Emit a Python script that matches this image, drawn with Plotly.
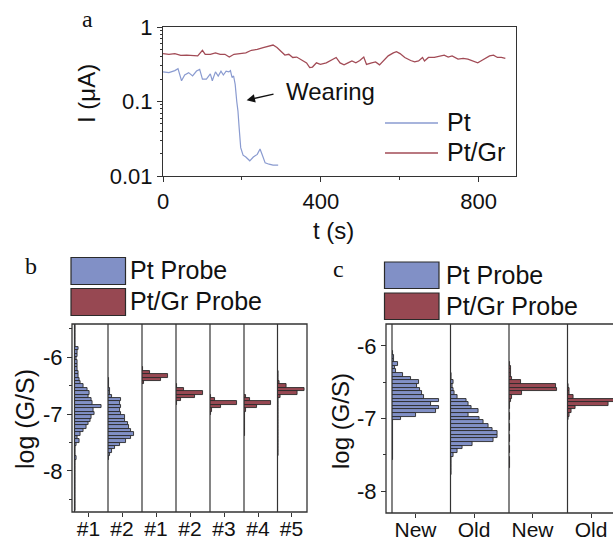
import plotly.graph_objects as go
import numpy as np

FW, FH = 613, 541

# ---------------- Panel a data ----------------
pt_t = [0, 15, 30, 38, 47, 55, 65, 75, 85, 93, 100, 110, 120, 125, 133, 140, 147, 153, 160, 167, 171,
        175, 179, 183, 187, 190, 193, 197, 203, 210, 220, 229, 239, 246, 252, 259, 269, 279, 292]
pt_i = [0.25, 0.244, 0.26, 0.276, 0.19, 0.227, 0.244, 0.22, 0.256, 0.27, 0.2, 0.2, 0.235, 0.19, 0.25,
        0.22, 0.256, 0.227, 0.256, 0.25, 0.26, 0.21, 0.22, 0.17, 0.1, 0.075, 0.045, 0.024, 0.019, 0.018,
        0.016, 0.018, 0.0195, 0.023, 0.019, 0.015, 0.0144, 0.014, 0.014]
gr_t = [0, 15, 30, 45, 60, 75, 88, 100, 107, 120, 133, 145, 157, 168, 180, 195, 210, 224, 239, 254,
        269, 279, 289, 299, 309, 319, 329, 339, 354, 364, 372, 379, 389, 399, 414, 429, 439, 449, 459,
        469, 479, 489, 499, 509, 516, 529, 539, 549, 559, 571, 584, 592, 601, 613, 628, 638, 648, 658,
        663, 673, 688, 703, 713, 723, 733, 748, 761, 773, 788, 798, 808, 818, 828, 838, 848, 858, 868]
gr_i = [0.44, 0.43, 0.44, 0.416, 0.42, 0.41, 0.41, 0.487, 0.43, 0.43, 0.45, 0.43, 0.43, 0.395, 0.43,
        0.44, 0.45, 0.487, 0.5, 0.53, 0.556, 0.573, 0.53, 0.476, 0.42, 0.43, 0.39, 0.395, 0.35, 0.33,
        0.285, 0.29, 0.33, 0.315, 0.33, 0.37, 0.39, 0.33, 0.31, 0.33, 0.35, 0.33, 0.355, 0.395, 0.315,
        0.33, 0.34, 0.31, 0.35, 0.41, 0.45, 0.467, 0.44, 0.39, 0.355, 0.34, 0.35, 0.39, 0.35, 0.39, 0.39,
        0.41, 0.42, 0.395, 0.41, 0.37, 0.38, 0.37, 0.35, 0.33, 0.355, 0.38, 0.41, 0.42, 0.39, 0.39, 0.38]

# ---------------- Panel b data (histograms, bin width 0.06) ----------------
b_bin = 0.06
b_labels = ["#1", "#2", "#1", "#2", "#3", "#4", "#5"]
b_pt1_top, b_pt1 = -5.43, [1, 1, 1, 1, 1, 1, 1, 4, 3, 3, 2, 3, 3, 3, 4, 4, 5, 6, 9, 13, 15, 14, 17, 18,
                           27, 19, 20, 17, 16, 14, 12, 9, 6, 3, 5, 2, 1, 1, 1, 2, 1, 1, 0.5, 1, 0.5, 1,
                           0.5, 1, 1, 0.5, 1, 0.5, 1, 0.5, 0.5]
b_pt2_top, b_pt2 = -6.39, [1, 1, 1, 1.5, 2, 4, 13, 12, 13, 12, 13, 17, 17, 20, 21, 23, 26, 23, 18, 12,
                           7, 4, 2, 1]
b_gr1_top, b_gr1 = -6.21, [1, 8, 26, 19, 2]
b_gr2_top, b_gr2 = -6.51, [1, 8, 27, 19, 5, 0.5]
b_gr3_top, b_gr3 = -6.69, [1, 5, 27, 11, 2, 1]
b_gr4_top, b_gr4 = -6.69, [1.5, 6, 27, 13, 2, 0.8, 0.8, 0.8, 0.8, 0.8, 0.8, 0.8]
b_gr5_top, b_gr5 = -6.27, [1, 1, 1, 2, 9, 27, 20, 3, 0.8, 0.8, 0.8, 0.8, 0.8, 0.8, 0.8, 0.8, 0.8, 0.8,
                           0.8, 0.8, 0.8, 0.8, 0.8, 0.8, 0.8]

# ---------------- Panel c data (histograms, bin width 0.05) ----------------
c_bin = 0.05
c_labels = ["New", "Old", "New", "Old"]
c_pt_new_top, c_pt_new = -6.10, [0.8, 1.5, 2, 6, 3.3, 4.3, 10.7, 19, 26.7, 25, 28.3, 30, 31.7, 46.7, 39,
                                 46.7, 44.3, 24.3, 9.3, 1, 1, 1, 1, 1, 1, 1, 1, 1, 1, 1]
c_pt_old_top, c_pt_old = -6.40, [1, 1, 3, 2, 3, 4, 7, 16, 18, 21, 28, 18, 29, 33, 38, 42, 47, 47, 43, 22,
                                 12, 7, 3, 1, 1, 1, 1, 1]
c_gr_new_top, c_gr_new = -6.25, [1, 2, 2, 2, 3, 12, 47, 48, 13, 3, 1.5, 1, 1, 0, 1, 1, 0, 1, 1, 0, 1, 1,
                                 0, 1, 1, 0, 1, 1, 1]
c_gr_old_top, c_gr_old = -6.55, [1, 1.5, 2, 6, 50, 41, 8, 4, 1.5, 1]

BLUE_BAR = "#8190c6"
RED_BAR = "#974852"
BLUE_LINE = "#8a9bd0"
RED_LINE = "#a24b56"
EDGE = "#2a2a2a"
FONT = "Liberation Sans, Arial, sans-serif"
SERIF = "Liberation Serif, Times New Roman, serif"


def px(x):
    return x / FW


def py(y):
    return 1 - y / FH


fig = go.Figure()

# ---------------- Panel a ----------------
fig.add_trace(go.Scatter(x=pt_t, y=pt_i, mode="lines", line=dict(color=BLUE_LINE, width=1.2),
                         xaxis="x", yaxis="y", showlegend=False, name="Pt"))
fig.add_trace(go.Scatter(x=gr_t, y=gr_i, mode="lines", line=dict(color=RED_LINE, width=1.3),
                         xaxis="x", yaxis="y", showlegend=False, name="Pt/Gr"))

axcommon = dict(showgrid=False, zeroline=False, linecolor="#333", linewidth=1.2, automargin=False,
                tickcolor="#333", tickfont=dict(family=FONT, size=22, color="#111"))

layout = dict(
    width=FW, height=FH, margin=dict(l=0, r=0, t=0, b=0, autoexpand=False),
    paper_bgcolor="white", plot_bgcolor="white", showlegend=False,
    bargap=0,
    xaxis=dict(domain=[px(163), px(516)], range=[0, 895], anchor="y", showline=True, mirror=True,
               ticks="outside", ticklen=5, tickvals=[0, 400, 800], ticktext=["0", "400", "800"],
               minor=dict(tickvals=[200, 600], ticks="outside", ticklen=3, tickcolor="#333"),
               **axcommon),
    yaxis=dict(domain=[py(176), py(27)], type="log", range=[-2, 0], anchor="x", showline=True,
               mirror=True, ticks="outside", ticklen=5, tickvals=[0.01, 0.1, 1],
               ticktext=["0.01", "0.1", "1"],
               minor=dict(tickvals=[0.02, 0.03, 0.04, 0.05, 0.06, 0.07, 0.08, 0.09,
                                    0.2, 0.3, 0.4, 0.5, 0.6, 0.7, 0.8, 0.9],
                          ticks="outside", ticklen=2, tickcolor="#333"),
               **axcommon),
)

# ---------------- Panels b and c ----------------
b_hists = [(b_pt1_top, b_pt1, BLUE_BAR), (b_pt2_top, b_pt2, BLUE_BAR),
           (b_gr1_top, b_gr1, RED_BAR), (b_gr2_top, b_gr2, RED_BAR), (b_gr3_top, b_gr3, RED_BAR),
           (b_gr4_top, b_gr4, RED_BAR), (b_gr5_top, b_gr5, RED_BAR)]
b_edges = [74.5, 108, 142, 176, 210, 244, 277.5, 307]
b_box = (72, 307, 324, 512)
c_hists = [(c_pt_new_top, c_pt_new, BLUE_BAR), (c_pt_old_top, c_pt_old, BLUE_BAR),
           (c_gr_new_top, c_gr_new, RED_BAR), (c_gr_old_top, c_gr_old, RED_BAR)]
c_edges = [392, 450.5, 509, 567.5, 613]
c_box = (386, 640, 324, 513)

shapes = []
ax_id = 2


def add_group(hists, edges, labels, binw, yname, tick_off):
    global ax_id
    for i, (top, counts, col) in enumerate(hists):
        centers = np.round(top - binw * np.arange(len(counts)), 3)
        xn = f"x{ax_id}"
        fig.add_trace(go.Bar(y=centers, x=counts, orientation="h", width=binw,
                             marker=dict(color=col, line=dict(color=EDGE, width=0.9)),
                             xaxis=xn, yaxis=yname, showlegend=False))
        w = edges[i + 1] - edges[i]
        ax = dict(axcommon)
        ax["tickfont"] = dict(family=FONT, size=21, color="#111")
        layout[f"xaxis{ax_id}"] = dict(
            domain=[px(edges[i]), px(edges[i + 1])], range=[0, w], anchor=yname,
            showline=False, ticks="outside", ticklen=4, ticklabelstandoff=-6,
            tickvals=[tick_off], ticktext=[labels[i]], **ax)
        ax_id += 1


add_group(b_hists, b_edges, b_labels, b_bin, "y2", 14)
add_group(c_hists, c_edges, c_labels, c_bin, "y3", 23.5)

layout["yaxis2"] = dict(domain=[py(512), py(324)], range=[-8.72, -5.42], anchor="free",
                        position=px(72), showline=False, ticks="outside", ticklen=5,
                        tickvals=[-6, -7, -8], ticktext=["-6", "-7", "-8"],
                        minor=dict(tickvals=[-5.5, -6.5, -7.5, -8.5], ticks="outside", ticklen=3,
                                   tickcolor="#333"), **axcommon)
layout["yaxis3"] = dict(domain=[py(513), py(324)], range=[-8.30, -5.70], anchor="free",
                        position=px(386), showline=False, ticks="outside", ticklen=5,
                        tickvals=[-6, -7, -8], ticktext=["-6", "-7", "-8"],
                        minor=dict(tickvals=[-6.5, -7.5], ticks="outside", ticklen=3,
                                   tickcolor="#333"), **axcommon)

LC = "#333"
for (x0, x1, y0, y1) in [b_box, c_box]:
    shapes.append(dict(type="rect", xref="paper", yref="paper", x0=px(x0), x1=px(x1), y0=py(y1),
                       y1=py(y0), line=dict(color=LC, width=1.3), layer="above"))
for e in b_edges[:-1]:
    shapes.append(dict(type="line", xref="paper", yref="paper", x0=px(e), x1=px(e), y0=py(512),
                       y1=py(324), line=dict(color=LC, width=1.2), layer="above"))
for e in c_edges[:-1]:
    shapes.append(dict(type="line", xref="paper", yref="paper", x0=px(e), x1=px(e), y0=py(513),
                       y1=py(324), line=dict(color=LC, width=1.2), layer="above"))

# legend swatches (panel a lines, panel b/c rectangles)
shapes.append(dict(type="line", xref="paper", yref="paper", x0=px(385), x1=px(438), y0=py(123),
                   y1=py(123), line=dict(color=BLUE_LINE, width=1.5)))
shapes.append(dict(type="line", xref="paper", yref="paper", x0=px(385), x1=px(438), y0=py(153),
                   y1=py(153), line=dict(color=RED_LINE, width=1.5)))
for (x0, x1, ya, yb) in [(71, 125.5, 257.5, 284.5), (384.5, 439, 262, 288.5)]:
    shapes.append(dict(type="rect", xref="paper", yref="paper", x0=px(x0), x1=px(x1), y0=py(yb),
                       y1=py(ya), fillcolor=BLUE_BAR, line=dict(color=EDGE, width=1.2)))
    shapes.append(dict(type="rect", xref="paper", yref="paper", x0=px(x0), x1=px(x1),
                       y0=py(yb + 31), y1=py(ya + 31), fillcolor=RED_BAR,
                       line=dict(color=EDGE, width=1.2)))
layout["shapes"] = shapes


def ann(text, x, y, size=21, family=FONT, xanchor="center", angle=0):
    return dict(text=text, x=px(x), y=py(y), xref="paper", yref="paper", showarrow=False,
                xanchor=xanchor, yanchor="middle", textangle=angle,
                font=dict(family=family, size=size, color="#111"))


anns = [
    ann("a", 88, 19, 24, SERIF), ann("b", 31, 266, 24, SERIF), ann("c", 339, 269, 24, SERIF),
    ann("I (μA)", 87, 94, 24, angle=-90), ann("t (s)", 333, 230, 24),
    ann("log (G/S)", 25, 419, 25, angle=-90), ann("log (G/S)", 340, 421, 24, angle=-90),
    ann("Pt", 445, 122, 25, xanchor="left"), ann("Pt/Gr", 445, 152, 25, xanchor="left"),
    ann("Pt Probe", 128, 270, 25, xanchor="left"), ann("Pt/Gr Probe", 128, 301, 25, xanchor="left"),
    ann("Pt Probe", 444, 275, 25, xanchor="left"), ann("Pt/Gr Probe", 444, 306, 25, xanchor="left"),
    dict(text="Wearing", x=306, y=np.log10(0.135), xref="x", yref="y", showarrow=False,
         xanchor="left", yanchor="middle", font=dict(family=FONT, size=24, color="#111")),
    dict(text="", x=212, y=np.log10(0.104), ax=284, ay=np.log10(0.127), xref="x", yref="y",
         axref="x", ayref="y", showarrow=True, arrowhead=2, arrowsize=1.2, arrowwidth=1.4,
         arrowcolor="#111"),
]
layout["annotations"] = anns

fig.update_layout(**layout)
fig.write_html("out.html", config={"displayModeBar": False},
               post_script="document.body.style.margin='0';document.body.style.overflow='hidden';")
